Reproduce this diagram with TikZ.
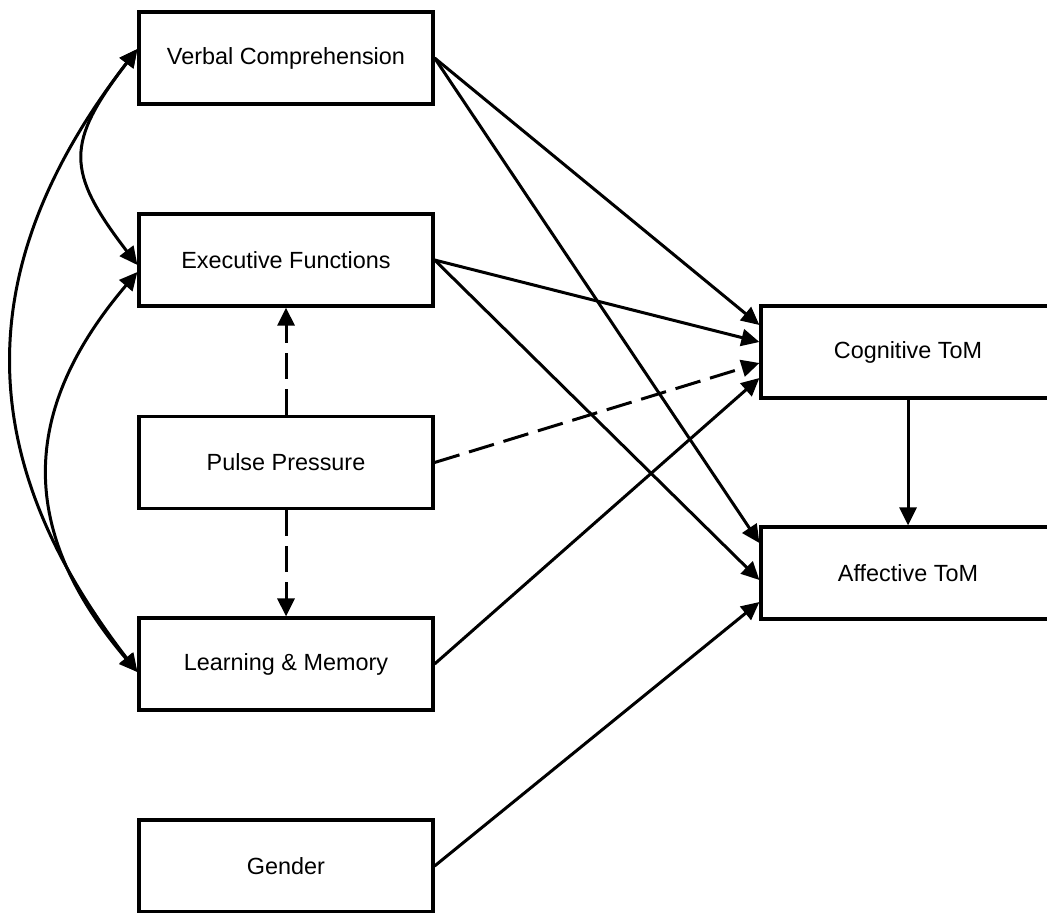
\documentclass[tikz,border=0pt]{standalone}
\usepackage{fontspec}
\setmainfont{Liberation Sans}
\usetikzlibrary{arrows.meta}
\begin{document}
\begin{tikzpicture}[x=1pt,y=-1pt,
  box/.style={draw, line width=3.2pt, minimum width=294pt, minimum height=92pt,
    inner sep=0pt, font=\fontsize{23.4}{28}\selectfont},
  tip/.tip={Triangle[length=18pt,width=17pt]},
  link/.style={line width=3pt, -tip},
  corr/.style={line width=3pt, tip-tip},
  dashlink/.style={link, dash pattern=on 26pt off 10pt}]
\useasboundingbox (0,0) rectangle (1047,913);
\clip (0,0) rectangle (1047,913);

% predictors
\node[box] (verbal) at (286,58)    {Verbal Comprehension};
\node[box] (exec)   at (286,260)   {Executive Functions};
\node[box] (pulse)  at (286,462.5) {Pulse Pressure};
\node[box] (learn)  at (286,664)   {Learning \& Memory};
\node[box] (gender) at (286,866)   {Gender};

% outcomes
\node[box] (cog) at (908,352) {Cognitive ToM};
\node[box] (aff) at (908,573) {Affective ToM};

% covariances among the cognitive domains
\draw[corr] ([yshift=9pt]verbal.west) .. controls +(-72,94) and +(-72,-94) .. ([yshift=-5pt]exec.west);
\draw[corr] ([yshift=9pt]verbal.west) .. controls +(-167,216) and +(-167,-216) .. ([yshift=-8pt]learn.west);
\draw[corr] ([yshift=-12pt]exec.west) .. controls +(-119,140) and +(-119,-140) .. ([yshift=-8pt]learn.west);

% pulse pressure effects
\draw[dashlink] (pulse.north) -- (exec.south);
\draw[dashlink] (pulse.south) -- (learn.north);
\draw[dashlink] (pulse.east) -- ([yshift=-11pt]cog.west);

% direct paths to theory of mind
\draw[link] (verbal.east) -- ([yshift=27pt]cog.west);
\draw[link] (verbal.east) -- ([yshift=30pt]aff.west);
\draw[link] (exec.east)   -- ([yshift=10pt]cog.west);
\draw[link] (exec.east)   -- ([yshift=-7pt]aff.west);
\draw[link] (learn.east)  -- ([yshift=-26pt]cog.west);
\draw[link] (gender.east) -- ([yshift=-29pt]aff.west);
\draw[link] (cog.south)   -- (aff.north);
\end{tikzpicture}
\end{document}
